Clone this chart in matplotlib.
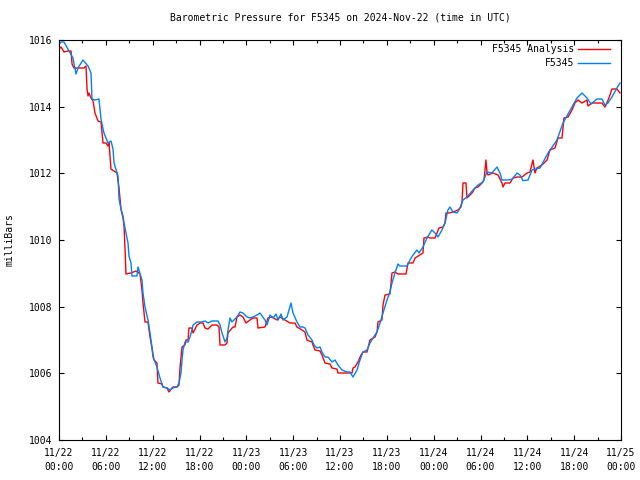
# Barometric pressure at F5345, observed vs. analysis, 2024-11-22 .. 11-25 (UTC)
import matplotlib
matplotlib.use("Agg")
import matplotlib.pyplot as plt
from matplotlib.ticker import MultipleLocator

plt.rcParams['font.family'] = 'DejaVu Sans Mono'
plt.rcParams['font.size'] = 7

# ------------------------------------------------------------------ #
# data (hours since 2024-11-22 00:00 UTC, pressure in mb)
ana_hours = [0.0, 0.26, 0.64, 1.15, 1.54, 1.67, 1.92, 2.43, 3.2, 3.46, 3.59, 3.72, 3.84,
             4.1, 4.36, 4.61, 5.0, 5.38, 5.64, 6.02, 6.28, 6.41, 6.66, 7.05, 7.43, 7.69,
             7.94, 8.2, 8.33, 8.46, 8.58, 9.22, 9.86, 10.25, 10.38, 10.63, 10.76, 11.02,
             11.4, 11.66, 11.91, 12.17, 12.55, 12.68, 13.19, 13.32, 13.84, 14.09, 14.48,
             14.6, 15.12, 15.37, 15.5, 15.76, 16.14, 16.27, 16.53, 16.65, 17.04, 17.17,
             17.68, 18.06, 18.45, 18.7, 19.09, 19.6, 20.24, 20.5, 20.63, 21.27, 21.52,
             21.65, 22.29, 22.55, 22.8, 23.19, 23.57, 23.96, 24.47, 24.85, 25.37, 25.49,
             26.39, 26.77, 27.29, 27.93, 28.31, 28.95, 29.59, 30.23, 30.49, 31.13, 31.51,
             31.77, 32.41, 32.54, 32.8, 33.44, 33.69, 34.08, 34.72, 34.97, 35.61, 35.74,
             37.54, 37.66, 37.92, 38.3, 38.69, 38.94, 39.46, 39.84, 40.48, 40.74, 40.87,
             41.38, 41.51, 41.77, 42.4, 42.66, 43.04, 43.43, 44.46, 44.71, 45.35, 45.61,
             46.63, 46.76, 47.27, 47.53, 48.17, 48.42, 48.68, 49.19, 49.45, 49.58, 49.96,
             50.47, 51.11, 51.5, 51.63, 51.76, 52.14, 52.27, 52.91, 53.3, 53.68, 54.19,
             54.45, 54.7, 54.83, 54.96, 55.6, 56.24, 56.75, 56.88, 57.14, 57.78, 58.16,
             58.68, 59.32, 59.96, 60.34, 60.72, 60.98, 61.23, 61.88, 62.52, 62.9, 63.54,
             63.93, 64.44, 64.69, 65.21, 65.72, 66.1, 66.49, 67.0, 67.64, 67.77, 68.28,
             69.56, 69.95, 70.2, 70.59, 70.84, 71.48, 71.87]
ana_mb = [1015.73, 1015.79, 1015.64, 1015.67, 1015.67, 1015.28, 1015.16, 1015.16, 1015.16,
          1015.22, 1014.53, 1014.32, 1014.41, 1014.26, 1014.17, 1013.81, 1013.57, 1013.54,
          1012.91, 1012.91, 1012.82, 1012.91, 1012.13, 1012.07, 1012.01, 1011.56, 1010.93,
          1010.66, 1010.42, 1009.73, 1008.98, 1009.01, 1009.07, 1009.01, 1008.98, 1008.5,
          1008.11, 1007.54, 1007.54, 1007.09, 1006.76, 1006.4, 1006.31, 1005.71, 1005.68,
          1005.59, 1005.56, 1005.44, 1005.56, 1005.59, 1005.59, 1005.65, 1006.16, 1006.79,
          1006.85, 1007.0, 1007.0, 1007.36, 1007.36, 1007.21, 1007.45, 1007.51, 1007.51,
          1007.36, 1007.33, 1007.45, 1007.45, 1007.39, 1006.85, 1006.85, 1006.91, 1007.21,
          1007.39, 1007.39, 1007.69, 1007.75, 1007.69, 1007.51, 1007.6, 1007.66, 1007.66,
          1007.36, 1007.39, 1007.66, 1007.69, 1007.6, 1007.69, 1007.6, 1007.51, 1007.51,
          1007.39, 1007.3, 1007.24, 1007.0, 1006.94, 1006.85, 1006.7, 1006.67, 1006.55,
          1006.31, 1006.28, 1006.16, 1006.13, 1006.01, 1006.01, 1006.16, 1006.19, 1006.34,
          1006.55, 1006.64, 1006.64, 1007.0, 1007.09, 1007.24, 1007.54, 1007.6, 1008.05,
          1008.35, 1008.38, 1009.01, 1009.04, 1008.98, 1008.98, 1009.31, 1009.31, 1009.46,
          1009.61, 1010.06, 1010.09, 1010.06, 1010.06, 1010.21, 1010.36, 1010.39, 1010.51,
          1010.81, 1010.81, 1010.84, 1010.9, 1010.99, 1011.14, 1011.71, 1011.71, 1011.26,
          1011.41, 1011.56, 1011.59, 1011.71, 1011.8, 1012.4, 1012.04, 1011.95, 1012.01,
          1011.95, 1011.71, 1011.59, 1011.71, 1011.71, 1011.86, 1011.89, 1011.89, 1012.01,
          1012.04, 1012.4, 1012.01, 1012.16, 1012.25, 1012.4, 1012.7, 1012.76, 1013.06,
          1013.06, 1013.66, 1013.69, 1013.9, 1014.11, 1014.2, 1014.11, 1014.2, 1014.02,
          1014.11, 1014.11, 1013.99, 1014.11, 1014.35, 1014.53, 1014.53, 1014.41]

obs_hours = [0.0, 0.26, 0.64, 1.28, 1.79, 2.18, 2.43, 3.07, 3.72, 4.1, 4.23, 4.61, 5.12,
             5.38, 5.76, 6.28, 6.66, 6.92, 7.05, 7.56, 7.69, 7.94, 8.2, 8.33, 8.84, 8.97,
             9.22, 9.35, 9.99, 10.12, 10.63, 10.76, 11.02, 11.4, 11.66, 11.91, 12.04, 12.55,
             12.94, 13.32, 13.84, 14.22, 14.6, 15.12, 15.37, 15.63, 15.76, 15.89, 16.14,
             16.53, 16.78, 17.04, 17.17, 17.68, 18.32, 18.7, 19.09, 19.6, 20.37, 20.63,
             20.88, 21.27, 21.52, 21.65, 21.91, 22.16, 22.8, 23.19, 23.57, 24.08, 24.47,
             24.85, 25.37, 25.75, 26.01, 26.39, 26.65, 27.03, 27.42, 27.8, 28.06, 28.44,
             28.7, 29.21, 29.72, 29.98, 30.49, 30.87, 31.26, 31.51, 31.9, 32.41, 32.67,
             33.05, 33.44, 33.69, 34.08, 34.46, 34.97, 35.36, 35.74, 36.25, 36.89, 37.28,
             37.66, 38.18, 38.56, 38.94, 39.46, 39.84, 40.23, 40.74, 41.13, 41.51, 42.02,
             42.4, 42.66, 43.04, 43.43, 43.68, 44.58, 44.97, 45.35, 45.86, 46.12, 46.63,
             47.14, 47.78, 48.17, 48.55, 49.06, 49.45, 49.83, 50.09, 50.47, 50.99, 51.37,
             51.76, 52.27, 53.04, 53.68, 54.32, 54.83, 55.47, 56.11, 56.5, 56.75, 57.39,
             58.03, 58.68, 59.06, 59.45, 60.09, 60.6, 61.62, 62.65, 63.8, 64.57, 65.72,
             66.36, 67.0, 67.64, 68.15, 68.92, 69.56, 69.95, 70.33, 70.84, 71.48, 71.87]
obs_mb = [1015.88, 1015.94, 1015.94, 1015.67, 1015.46, 1014.98, 1015.16, 1015.4, 1015.22,
          1015.01, 1014.23, 1014.2, 1014.23, 1013.63, 1013.21, 1012.91, 1012.97, 1012.73,
          1012.31, 1011.92, 1011.23, 1010.93, 1010.72, 1010.51, 1009.91, 1009.52, 1009.31,
          1008.92, 1008.92, 1009.19, 1008.8, 1008.41, 1007.99, 1007.6, 1007.21, 1006.79,
          1006.49, 1006.19, 1005.86, 1005.59, 1005.56, 1005.5, 1005.56, 1005.59, 1005.71,
          1006.01, 1006.4, 1006.7, 1006.94, 1006.94, 1007.09, 1007.3, 1007.45, 1007.54,
          1007.54, 1007.57, 1007.51, 1007.57, 1007.57, 1007.45, 1007.21, 1006.94, 1007.06,
          1007.3, 1007.66, 1007.54, 1007.69, 1007.84, 1007.81, 1007.69, 1007.66, 1007.69,
          1007.75, 1007.81, 1007.72, 1007.6, 1007.45, 1007.75, 1007.66, 1007.78, 1007.6,
          1007.78, 1007.6, 1007.69, 1008.11, 1007.81, 1007.54, 1007.39, 1007.39, 1007.36,
          1007.15, 1007.0, 1006.85, 1006.76, 1006.79, 1006.64, 1006.49, 1006.49, 1006.34,
          1006.4, 1006.25, 1006.1, 1006.04, 1006.04, 1005.89, 1006.1, 1006.4, 1006.64,
          1006.7, 1006.91, 1007.06, 1007.24, 1007.51, 1007.81, 1008.2, 1008.44, 1008.71,
          1009.01, 1009.28, 1009.22, 1009.22, 1009.4, 1009.55, 1009.7, 1009.61, 1009.79,
          1010.06, 1010.3, 1010.21, 1010.09, 1010.3, 1010.51, 1010.9, 1010.99, 1010.84,
          1010.81, 1010.96, 1011.2, 1011.29, 1011.5, 1011.65, 1011.74, 1012.04, 1012.01,
          1012.19, 1012.01, 1011.8, 1011.8, 1011.82, 1012.01, 1011.95, 1011.78, 1011.8,
          1012.1, 1012.16, 1012.61, 1013.0, 1013.51, 1013.99, 1014.26, 1014.41, 1014.26,
          1014.08, 1014.23, 1014.23, 1014.05, 1014.11, 1014.29, 1014.56, 1014.71]

tick_hours = [0, 6, 12, 18, 24, 30, 36, 42, 48, 54, 60, 66, 72]
tick_labels = ['11/22\n00:00', '11/22\n06:00', '11/22\n12:00', '11/22\n18:00',
               '11/23\n00:00', '11/23\n06:00', '11/23\n12:00', '11/23\n18:00',
               '11/24\n00:00', '11/24\n06:00', '11/24\n12:00', '11/24\n18:00',
               '11/25\n00:00']

# ------------------------------------------------------------------ #
fig = plt.figure(figsize=(6.4, 4.8), dpi=100)
ax = fig.add_axes([59 / 640, 40 / 480, 562 / 640, 400 / 480])

ax.plot(ana_hours, ana_mb, color='#ff0000', linewidth=1.0, label='F5345 Analysis')
ax.plot(obs_hours, obs_mb, color='#0080ff', linewidth=1.0, label='F5345')

ax.set_xlim(0, 72)
ax.set_ylim(1004, 1016)
ax.set_xticks(tick_hours)
ax.set_xticklabels(tick_labels, linespacing=1.45)
ax.xaxis.set_minor_locator(MultipleLocator(3))
ax.yaxis.set_major_locator(MultipleLocator(2))

ax.tick_params(which='both', direction='in', top=True, right=True, width=0.8)
ax.tick_params(which='major', length=3.5)
ax.tick_params(which='minor', length=2)
ax.tick_params(axis='x', pad=6)
ax.tick_params(axis='y', pad=5)
for sp in ax.spines.values():
    sp.set_linewidth(0.8)

ax.set_title('Barometric Pressure for F5345 on 2024-Nov-22 (time in UTC)',
             fontsize=7, pad=14)
ax.set_ylabel('milliBars')
ax.yaxis.set_label_coords(-0.079, 0.5)

ax.legend(loc='upper right', bbox_to_anchor=(0.981, 0.99), frameon=False,
          markerfirst=False, handlelength=3.3, handletextpad=0.4,
          labelspacing=0.45, borderpad=0, borderaxespad=0)

fig.savefig('out.png', dpi=100)
plt.close()
